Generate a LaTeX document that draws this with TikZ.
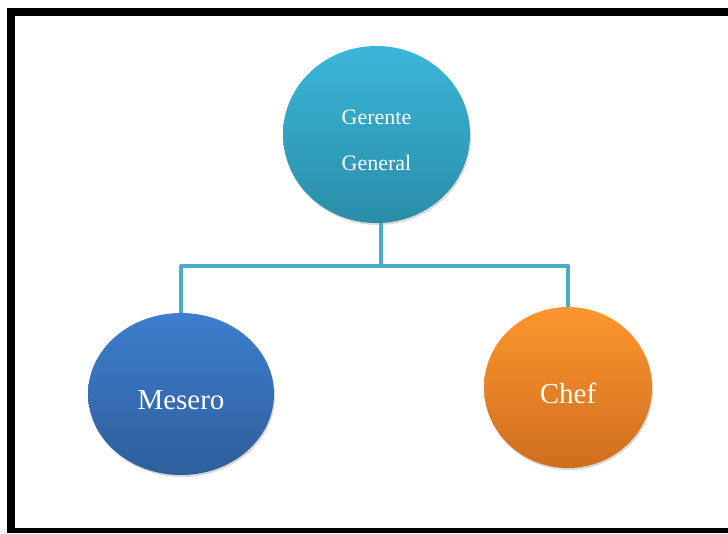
\documentclass[tikz,border=0pt]{standalone}
\usepackage{fontspec}
\setmainfont{Liberation Serif}
\usetikzlibrary{shapes.geometric,shadows}
\definecolor{ggtop}{HTML}{3BB6DA}
\definecolor{ggbot}{HTML}{2A8DA7}
\definecolor{mstop}{HTML}{3E7ECD}
\definecolor{msbot}{HTML}{2E5E9D}
\definecolor{chtop}{HTML}{FC962F}
\definecolor{chbot}{HTML}{D06E1D}
\definecolor{link}{HTML}{4BACC6}
\tikzset{
  bubble/.style={ellipse, inner sep=0pt,
    drop shadow={shadow xshift=1pt, shadow yshift=-2pt, opacity=0.25, fill=black!60}},
  bubbletext/.style={text=white, align=center, yshift=-6pt},
  connector/.style={draw=link, line width=4pt},
  frame/.style={fill=black, draw=none}
}
\begin{document}
\begin{tikzpicture}[x=1pt,y=-1pt]
\useasboundingbox (0,0) rectangle (728,533);
\fill[white] (0,0) rectangle (728,533);
% frame
\path[frame] (7,8) rectangle (728,16);
\path[frame] (7,8) rectangle (15,533);
\path[frame] (7,528) rectangle (728,533);
% nodes
\node[bubble, minimum width=187pt, minimum height=177pt, top color=ggtop, bottom color=ggbot,
  label={[bubbletext, font=\fontsize{22}{46}\selectfont]center:Gerente\\General}] (gg) at (376.5,134.5) {};
\node[bubble, minimum width=186pt, minimum height=162pt, top color=mstop, bottom color=msbot,
  label={[bubbletext, font=\fontsize{29}{34}\selectfont]center:Mesero}] (mes) at (181,394) {};
\node[bubble, minimum width=168pt, minimum height=161pt, top color=chtop, bottom color=chbot,
  label={[bubbletext, font=\fontsize{29}{34}\selectfont]center:Chef}] (chef) at (568,387.5) {};
% connectors
\coordinate (j) at (381,266);
\draw[connector] (gg.south -| j) -- (j);
\draw[connector, line join=round] (mes.north) |- (j) -| (chef.north);
\end{tikzpicture}
\end{document}
